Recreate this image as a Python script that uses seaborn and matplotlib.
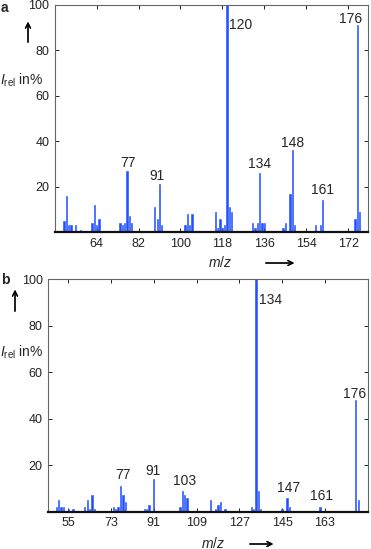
import matplotlib
matplotlib.use("Agg")
import matplotlib.pyplot as plt
import seaborn as sns

# spectrum a: m/z and relative intensity (%)
mz_a = [50, 51, 52, 53, 55, 57, 62, 63, 64, 65, 74, 75, 76, 77, 78, 79,
        89, 90, 91, 92, 102, 103, 104, 105, 115, 116, 117, 118, 119, 120, 121, 122,
        131, 132, 133, 134, 135, 136, 144, 145, 147, 148, 149, 158, 160, 161,
        175, 176, 177]
int_a = [5, 16, 3, 3, 3, 1, 4, 12, 3, 6, 4, 3, 4, 27, 7, 4,
         11, 6, 21, 3, 3, 8, 3, 8, 9, 2, 6, 2, 3, 100, 11, 9,
         4, 2, 4, 26, 4, 4, 2, 4, 17, 36, 3, 3, 3, 14,
         6, 91, 9]
lab_a = ["77", "91", "120", "134", "148", "161", "176"]
lab_a_x = [77.3, 90.0, 121.0, 133.8, 148.1, 161.0, 178.0]
lab_a_y = [30.5, 24.7, 91.0, 30.2, 39.3, 18.5, 94.0]
ticks_a = [64, 82, 100, 118, 136, 154, 172]

# spectrum b
mz_b = [50, 51, 52, 53, 55, 57, 62, 63, 64, 65, 66, 74, 75, 76, 77, 78, 79,
        87, 88, 89, 91, 102, 103, 104, 105, 115, 117, 118, 119, 121,
        132, 133, 134, 135, 136, 145, 147, 148, 161, 176, 177]
int_b = [2, 5, 2, 2, 1, 1, 2, 5, 1, 7, 1, 2, 1, 2, 11, 7, 4,
         1, 1, 3, 14, 2, 9, 7, 6, 5, 1, 3, 4, 1,
         2, 1, 100, 9, 1, 1, 6, 2, 2, 48, 5]
lab_b = ["77", "91", "103", "134", "147", "161", "176"]
lab_b_x = [77.9, 90.5, 104.1, 135.3, 147.6, 161.6, 175.5]
lab_b_y = [15.7, 17.6, 13.3, 91.1, 10.0, 6.6, 50.5]
ticks_b = [55, 73, 91, 109, 127, 145, 163]

sns.set_style("ticks")
plt.rcParams["font.family"] = ["Liberation Sans", "DejaVu Sans"]
plt.rcParams["mathtext.fontset"] = "custom"
plt.rcParams["mathtext.rm"] = "Liberation Sans"
plt.rcParams["mathtext.it"] = "Liberation Sans:italic"

fig = plt.figure(figsize=(3.71, 5.49), dpi=100)
ax_a = fig.add_axes([0.148, 0.577, 0.845, 0.414])
ax_b = fig.add_axes([0.130, 0.068, 0.863, 0.423])

blue = "#2050ff"

panels = [
    (ax_a, mz_a, int_a, lab_a, lab_a_x, lab_a_y, ticks_a, (46.1, 180.7)),
    (ax_b, mz_b, int_b, lab_b, lab_b_x, lab_b_y, ticks_b, (46.6, 181.3)),
]
for ax, mz, inten, labs, lx, ly, ticks, xl in panels:
    sns.histplot(x=mz, weights=inten, discrete=True, shrink=0.55, ax=ax,
                 color=blue, facecolor=blue, alpha=1, edgecolor=blue,
                 linewidth=0.4)
    for t, x, y in zip(labs, lx, ly):
        ha = "center"
        if (t == "120" and ax is ax_a) or (t == "134" and ax is ax_b):
            ha = "left"
        if t == "176" and ax is ax_a:
            ha = "right"
        ax.text(x, y, t, ha=ha, va="center", fontsize=10)
    ax.set_xlim(*xl)
    ax.set_ylim(0, 100)
    ax.set_xticks(ticks)
    ax.set_yticks([20, 40, 60, 80, 100])
    ax.set_ylabel("")
    ax.set_xlabel("")
    ax.tick_params(direction="in", length=3, width=0.7, labelsize=9,
                   top=True, right=True, pad=4, colors="#222222")
    for s in ["top", "right", "left"]:
        ax.spines[s].set_visible(True)
        ax.spines[s].set_color("#666666")
        ax.spines[s].set_linewidth(0.8)
    ax.spines["bottom"].set_color("#111111")
    ax.spines["bottom"].set_linewidth(1.6)

H = 549
# panel letters
fig.text(1 / 371, 1 - 1 / H, "a", fontsize=10, weight="bold", va="top")
fig.text(1 / 371, 1 - 280 / H, "b", fontsize=10, weight="bold", va="center")

# axis labels with arrows
fig.text(0 / 371, 1 - 80 / H, r"$I_{\rm rel}$ in%", fontsize=10, va="center")
fig.text(0 / 371, 1 - 352 / H, r"$I_{\rm rel}$ in%", fontsize=10, va="center")
fig.text(220 / 371, 1 - 263 / H, r"$m/z$", fontsize=10, ha="center", va="center")
fig.text(213 / 371, 1 - 543 / H, r"$m/z$", fontsize=10, ha="center", va="center")

arr = dict(arrowstyle="->", lw=0.9, color="black", mutation_scale=9)
fig.add_artist(plt.annotate("", xy=(28, H - 19), xytext=(28, H - 45),
                            xycoords="figure pixels", arrowprops=arr))
fig.add_artist(plt.annotate("", xy=(15, H - 287), xytext=(15, H - 314),
                            xycoords="figure pixels", arrowprops=arr))
fig.add_artist(plt.annotate("", xy=(297, H - 263), xytext=(263, H - 263),
                            xycoords="figure pixels", arrowprops=arr))
fig.add_artist(plt.annotate("", xy=(276, H - 544), xytext=(247, H - 544),
                            xycoords="figure pixels", arrowprops=arr))

fig.savefig("out.png", dpi=100)
